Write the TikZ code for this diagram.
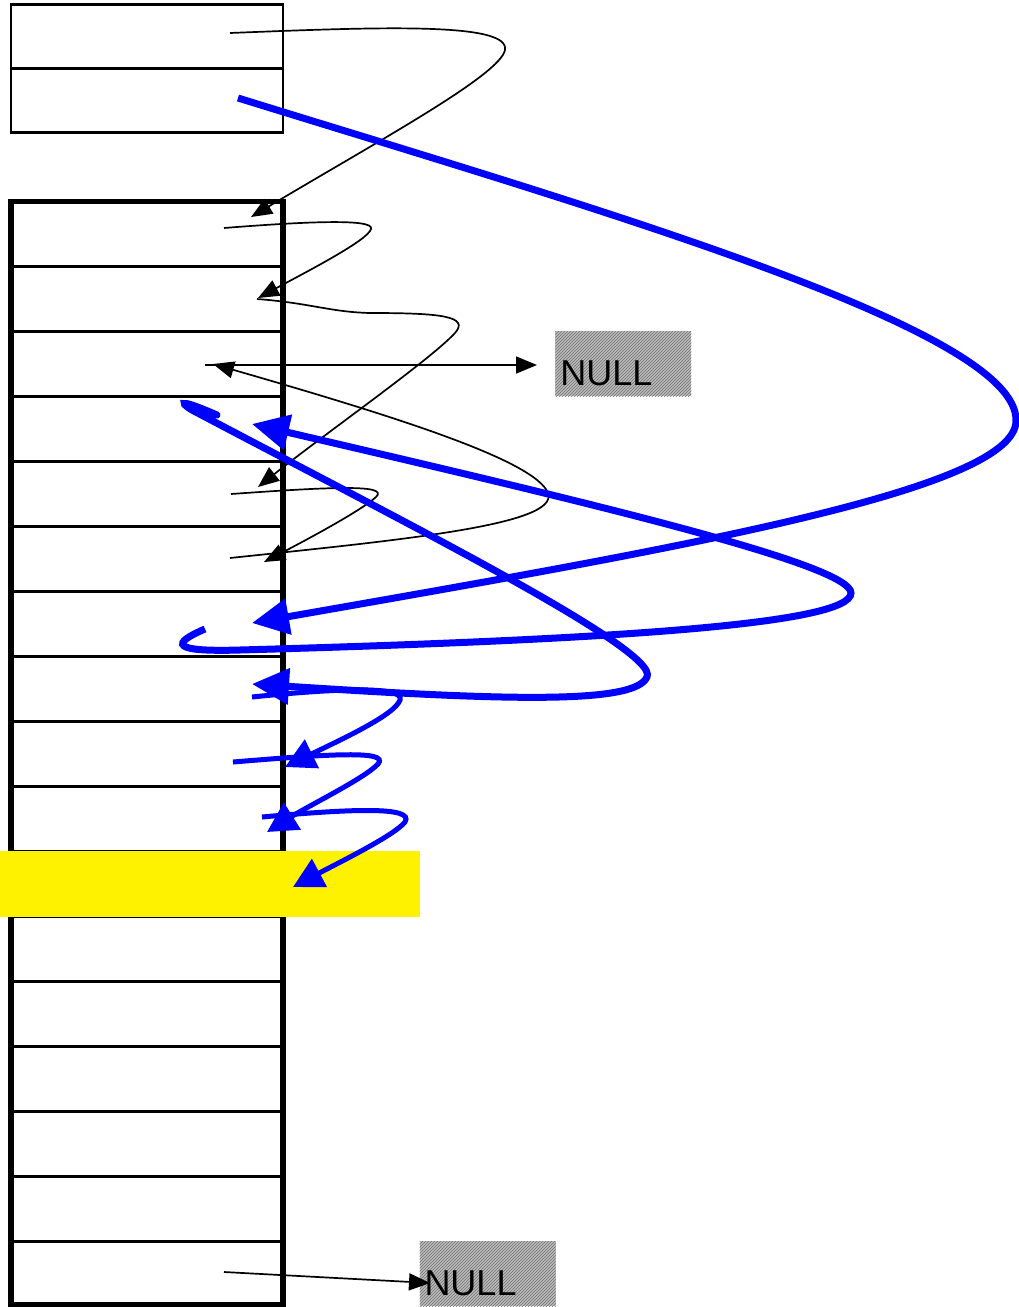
\documentclass[tikz,border=0pt]{standalone}
\usepackage{fontspec}
\setmainfont{Liberation Sans}
\usetikzlibrary{arrows.meta,patterns}
\begin{document}
\begin{tikzpicture}[x=1pt,y=-1pt,
  cell/.style={draw,line width=2.8pt,minimum width=272pt,minimum height=65pt,inner sep=0pt,outer sep=0pt},
  nullbox/.style={preaction={fill=black!27},pattern=north east lines,pattern color=black!55,
    minimum width=136pt,minimum height=65pt,inner xsep=5pt,inner ysep=0pt,text width=126pt,
    align=left,text height=54pt,text depth=11pt,font=\fontsize{36}{40}\selectfont,outer sep=0pt},
  hlbox/.style={fill=yellow,minimum width=419.5pt,minimum height=66.5pt,inner sep=0pt,outer sep=0pt},
  blk/.style={line width=1.7pt,-{Triangle[length=21pt,width=17pt]}},
  bigblue/.style={blue,line width=7pt,-{Triangle[length=37pt,width=35pt]}},
  smallblue/.style={blue,line width=5pt,-{Triangle[length=30pt,width=31pt]}}]
\useasboundingbox (0,0) rectangle (1019,1307);
% top two-field box
\node[cell,minimum height=64pt] (t0) at (147,36.5) {};
\node[cell,minimum height=64pt] (t1) at (147,100.5) {};
% array of cells
\foreach \i in {0,...,15}{
  \node[cell] (c\i) at (147,{234+65*\i}) {};
}
\node[cell,minimum height=63pt] (c16) at (147,1273) {};
\draw[line width=5.5pt] (c0.north west) rectangle (c16.south east);
% highlighted row
\node[hlbox] (hl) at (209.75,883.75) {};
% NULL boxes
\node[nullbox] (n1) at (623.3,363.8) {NULL};
\node[nullbox] (n2) at (487.5,1273.5) {NULL};
% connector end points
\coordinate (b1s) at (230,33);   \coordinate (b1e) at (251,217);
\coordinate (b2s) at (224,228);  \coordinate (b2e) at (258,298);
\coordinate (b3s) at (257,299);  \coordinate (b3e) at (258,487);
\coordinate (b4s) at (205,365);  \coordinate (b4e) at (537,365);
\coordinate (b5s) at (230,558);  \coordinate (b5e) at (213,364);
\coordinate (b6s) at (231,494);  \coordinate (b6e) at (264,562);
\coordinate (b7s) at (224,1272); \coordinate (b7e) at (430,1283);
\coordinate (uAs) at (238,98);   \coordinate (uAe) at (252,623);
\coordinate (uBs) at (217,415);  \coordinate (uBe) at (252,684);
\coordinate (uCs) at (205,629);  \coordinate (uCe) at (252,424);
\coordinate (uDs) at (252,697);  \coordinate (uDe) at (285,767);
\coordinate (uEs) at (233,762);  \coordinate (uEe) at (267,832);
\coordinate (uFs) at (262,817);  \coordinate (uFe) at (293,887);
% black connectors
\draw[blk] (b1s) .. controls (380,27) and (510,22) .. (505,50) .. controls (500,75) and (380,140) .. (b1e);
\draw[blk] (b2s) .. controls (300,222) and (375,218) .. (371,229) .. controls (368,240) and (310,270) .. (b2e);
\draw[blk] (b3s) .. controls (310,303) and (330,312) .. (370,313) .. controls (440,313) and (470,316) .. (455,333) .. controls (430,360) and (330,430) .. (b3e);
\draw[blk] (b4s) -- (b4e);
\draw[blk] (b5s) .. controls (400,540) and (560,525) .. (548,493) .. controls (535,460) and (390,415) .. (b5e);
\draw[blk] (b6s) .. controls (330,487) and (390,484) .. (376,497) .. controls (362,510) and (310,538) .. (b6e);
\draw[blk] (b7s) -- (b7e);
% blue connectors
\draw[bigblue] (uAs) .. controls (600,210) and (1019,330) .. (1016,421) .. controls (1015,490) and (680,548) .. (uAe);
\draw[bigblue] (uCs) .. controls (170,644) and (172,652) .. (240,650) .. controls (600,640) and (851,625) .. (851,593) .. controls (851,565) and (600,505) .. (uCe);
\draw[bigblue,line cap=round] (uBs) .. controls (185,401) and (176,400) .. (192,410) .. controls (400,520) and (660,650) .. (647,677) .. controls (635,705) and (500,700) .. (uBe);
\draw[smallblue] (uDs) .. controls (330,689) and (405,685) .. (400,700) .. controls (395,715) and (340,740) .. (uDe);
\draw[smallblue] (uEs) .. controls (330,754) and (390,750) .. (378,764) .. controls (365,778) and (310,805) .. (uEe);
\draw[smallblue] (uFs) .. controls (350,809) and (415,806) .. (405,822) .. controls (395,835) and (340,862) .. (uFe);
\end{tikzpicture}
\end{document}
